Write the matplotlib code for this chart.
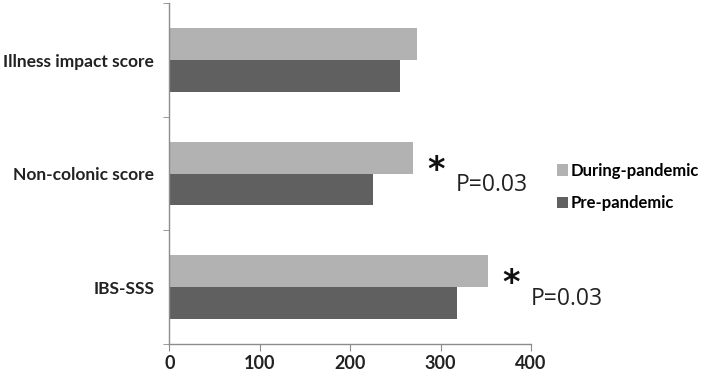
import numpy as np
import matplotlib.pyplot as plt

# scores
categories = ["IBS-SSS", "Non-colonic score", "Illness impact score"]
during_pandemic = [352, 269, 274]
pre_pandemic = [318, 225, 255]
x_ticks = [0, 100, 200, 300, 400]
# significance marks: (category index, p-value label)
significance = [(0, "P=0.03"), (1, "P=0.03")]

LIGHT = "#b2b2b2"
DARK = "#606060"
AXIS = "#8c8c8c"

plt.rcParams["font.family"] = ["Lato", "DejaVu Sans"]

fig = plt.figure(figsize=(7.09, 3.78), dpi=100)
ax = fig.add_axes([0.239, 0.090, 0.510, 0.901])

y = np.arange(len(categories))
h = 0.28
ax.barh(y + h / 2, during_pandemic, height=h, color=LIGHT, label="During-pandemic")
ax.barh(y - h / 2, pre_pandemic, height=h, color=DARK, label="Pre-pandemic")

ax.set_xlim(0, 400)
ax.set_ylim(-0.5, len(categories) - 0.5)
ax.set_xticks(x_ticks)
ax.set_xticklabels([str(t) for t in x_ticks], fontweight="bold", fontsize=13,
                   color="#222222")

# category labels centred, ticks on category boundaries
ax.set_yticks(y)
ax.set_yticklabels(categories, fontweight="bold", fontsize=12.5, color="#222222")
ax.tick_params(axis="y", length=0, pad=11)
ax.set_yticks(np.arange(-0.5, len(categories)), minor=True)
ax.tick_params(axis="y", which="minor", length=4, color=AXIS)
ax.tick_params(axis="x", length=5, color=AXIS, pad=3)

for side in ["top", "right"]:
    ax.spines[side].set_visible(False)
for side in ["left", "bottom"]:
    ax.spines[side].set_color(AXIS)
    ax.spines[side].set_linewidth(1.0)

# asterisks and p-values
for idx, label in significance:
    x_star = during_pandemic[idx] + 26
    ax.text(x_star, idx + 0.03, "*", fontsize=24, ha="center", va="center",
            family="DejaVu Sans", fontweight="bold", color="#111111",
            clip_on=False)
    ax.text(x_star + 22, idx - 0.10, label, fontsize=16.5, ha="left",
            va="center", color="#222222", clip_on=False,
            family=["Open Sans", "DejaVu Sans"])

fig.legend(loc="center left", bbox_to_anchor=(0.764, 0.505), frameon=False,
           prop={"weight": "bold", "size": 12},
           handlelength=0.7, handleheight=0.7, handletextpad=0.15,
           labelspacing=1.0)

fig.savefig("out.png", dpi=100)
